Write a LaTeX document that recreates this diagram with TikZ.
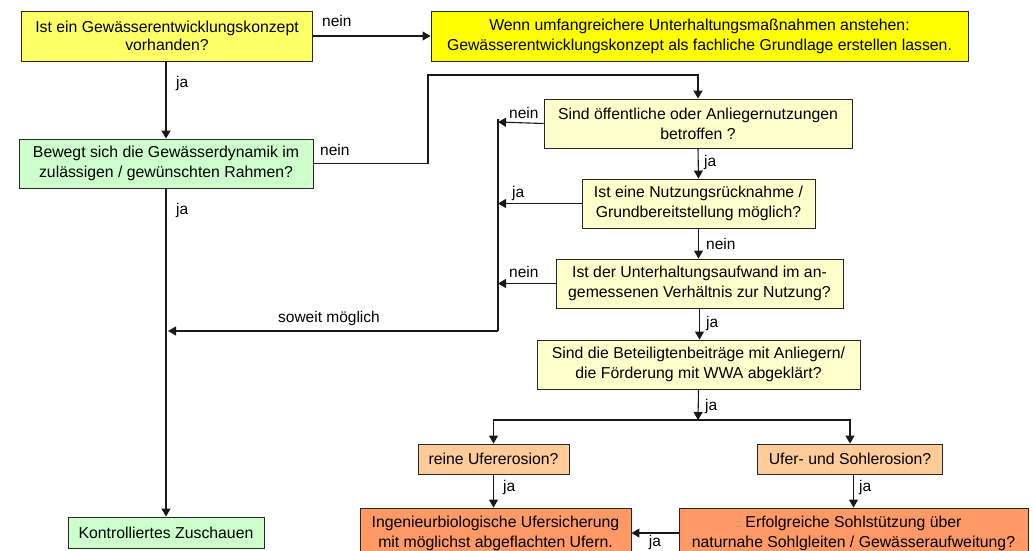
\documentclass[tikz,border=0pt]{standalone}
\usepackage{fontspec}
\setmainfont{Liberation Sans}
\usetikzlibrary{arrows.meta}
\definecolor{yelA}{HTML}{FFFF66}
\definecolor{yelB}{HTML}{FFFF00}
\definecolor{paleY}{HTML}{FFFFCC}
\definecolor{paleG}{HTML}{CCFFCC}
\definecolor{paleO}{HTML}{FFCC99}
\definecolor{oran}{HTML}{FF9966}
\begin{document}
\begin{tikzpicture}[x=1pt,y=-1pt,
  box/.style={draw=black!85,line width=0.9pt,align=center,inner sep=0pt,
    font=\fontsize{15.8}{20}\selectfont},
  conn/.style={line width=1.1pt,black!90},
  arr/.style={conn,-{Triangle[length=8pt,width=9pt]}},
  lbl/.style={font=\fontsize{15.5}{17}\selectfont,inner sep=0pt}]
\useasboundingbox (0,0) rectangle (1033,550);
\clip (0,0) rectangle (1033,550);
% boxes
\node[box,fill=yelA,minimum width=291pt,minimum height=50pt,font=\fontsize{15.8}{18.5}\selectfont] (A) at (167,36) {Ist ein Gewässerentwicklungskonzept\\vorhanden?};
\node[box,fill=yelB,minimum width=537pt,minimum height=50pt] (B) at (699.5,36) {Wenn umfangreichere Unterhaltungsmaßnahmen anstehen:\\Gewässerentwicklungskonzept als fachliche Grundlage erstellen lassen.};
\node[box,fill=paleG,minimum width=294pt,minimum height=49pt] (C) at (166,163.5) {Bewegt sich die Gewässerdynamik im\\zulässigen / gewünschten Rahmen?};
\node[box,fill=paleY,minimum width=308pt,minimum height=49pt] (D) at (698,123.5) {Sind öffentliche oder Anliegernutzungen\\betroffen ?};
\node[box,fill=paleY,minimum width=233pt,minimum height=49pt] (E) at (698.5,203.5) {Ist eine Nutzungsrücknahme /\\Grundbereitstellung möglich?};
\node[box,fill=paleY,minimum width=287pt,minimum height=49pt] (F) at (699.5,283.5) {Ist der Unterhaltungsaufwand im an-\\gemessenen Verhältnis zur Nutzung?};
\node[box,fill=paleY,minimum width=323pt,minimum height=49pt] (G) at (698.5,364.5) {Sind die Beteiligtenbeiträge mit Anliegern/\\die Förderung mit WWA abgeklärt?};
\node[box,fill=paleO,minimum width=151pt,minimum height=30pt] (H) at (493.5,459) {reine Ufererosion?};
\node[box,fill=paleO,minimum width=185pt,minimum height=30pt] (I) at (850,459) {Ufer- und Sohlerosion?};
\node[box,fill=oran,minimum width=271pt,minimum height=50pt] (J) at (495.5,533) {Ingenieurbiologische Ufersicherung\\mit möglichst abgeflachten Ufern.};
\node[box,fill=oran,minimum width=349pt,minimum height=50pt] (K) at (853.5,533) {Erfolgreiche Sohlstützung über\\naturnahe Sohlgleiten / Gewässeraufweitung?};
\node[box,fill=paleG,minimum width=196pt,minimum height=31pt] (L) at (166,532.5) {Kontrolliertes Zuschauen};
% helper coordinates
\coordinate (up) at (428,75);
\coordinate (vtop) at (498,122);
\coordinate (vbot) at (498,331);
\coordinate (soweit) at (168,331);
\coordinate (junc) at (698,420);
% connectors
\draw[arr] (A.east) -- (B.west);
\node[lbl,anchor=west] (l1) at (322,21) {nein};
\draw[arr] (C.north |- A.south) -- (C.north);
\node[lbl,anchor=west] (l2) at (176,83) {ja};
\draw[arr] (C.east) -| (up) -| (D.north);
\node[lbl,anchor=west] (l3) at (320,150) {nein};
\draw[arr] (D.west) -- (vtop);
\node[lbl,anchor=west] (l4) at (509,113) {nein};
\draw[arr] (D.south) -- (E.north);
\node[lbl,anchor=west] (l5) at (704,162) {ja};
\draw[arr] (E.west) -- (vtop |- E.west);
\node[lbl,anchor=west] (l6) at (512,193) {ja};
\draw[arr] (E.south) -- (E.south |- F.north);
\node[lbl,anchor=west] (l7) at (706,244) {nein};
\draw[arr] (F.west) -- (vtop |- F.west);
\node[lbl,anchor=west] (l8) at (509,272) {nein};
\draw[arr] (F.south) -- (F.south |- G.north);
\node[lbl,anchor=west] (l9) at (706,323) {ja};
\draw[conn] ([yshift=3pt]vtop) -- (vbot);
\draw[arr] (vbot) -- (soweit);
\node[lbl] (l10) at (329,318) {soweit möglich};
\draw[arr] (G.south) -- (junc);
\draw[arr] (junc) -| (H.north);
\draw[arr] (junc) -| (I.north);
\node[lbl,anchor=west] (l11) at (705,406) {ja};
\draw[arr] (H.south) -- (H.south |- J.north);
\node[lbl,anchor=west] (l12) at (503,487) {ja};
\draw[arr] (K.north |- I.south) -- (K.north);
\node[lbl,anchor=west] (l13) at (859,487) {ja};
\draw[arr] (K.west) -- (J.east);
\node[lbl] (l14) at (655,542) {ja};
\draw[arr] (C.south) -- (L.north);
\node[lbl,anchor=west] (l15) at (176,210) {ja};
\end{tikzpicture}
\end{document}
